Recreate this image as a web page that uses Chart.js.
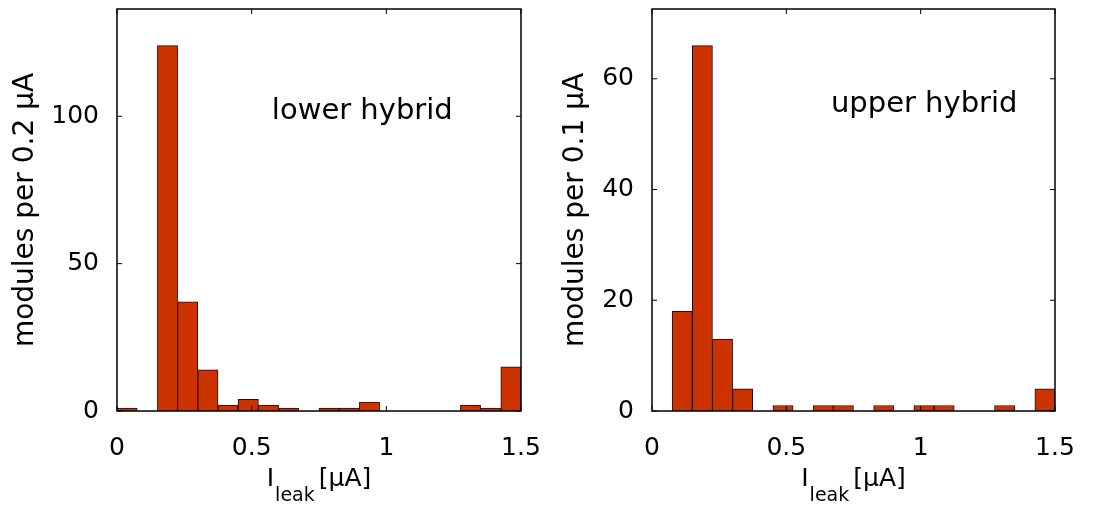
<!DOCTYPE html>
<html>
<head>
<meta charset="utf-8">
<script src="https://cdn.jsdelivr.net/npm/chart.js@4.4.1/dist/chart.umd.min.js"></script>
<style>
    html, body { margin: 0; padding: 0; background: #fff; }
    .panel { position: absolute; top: 0; height: 508px; }
    #leftPanel { left: 0; width: 546px; }
    #rightPanel { left: 546px; width: 547px; }
</style>
</head>
<body>
<div class="panel" id="leftPanel"><canvas id="leftChart"></canvas></div>
<div class="panel" id="rightPanel"><canvas id="rightChart"></canvas></div>
<script>
// ==================== DATOS ====================
const binCenters = [0.0375, 0.1125, 0.1875, 0.2625, 0.3375, 0.4125, 0.4875, 0.5625, 0.6375, 0.7125,
                    0.7875, 0.8625, 0.9375, 1.0125, 1.0875, 1.1625, 1.2375, 1.3125, 1.3875, 1.4625];
const lowerCounts = [1, 0, 124, 37, 14, 2, 4, 2, 1, 0, 1, 1, 3, 0, 0, 0, 0, 2, 1, 15];
const upperCounts = [0, 18, 66, 13, 4, 0, 1, 0, 1, 1, 0, 1, 0, 1, 1, 0, 0, 1, 0, 4];

const xTicks = [0, 0.5, 1, 1.5];
const xTickLabels = ['0', '0.5', '1', '1.5'];
const lowerYTicks = [0, 50, 100];
const upperYTicks = [0, 20, 40, 60];
const lowerYMax = 136.4;
const upperYMax = 72.6;

const FONT = '"DejaVu Sans", sans-serif';

// ==================== PLUGIN: caja, ticks hacia dentro, textos ====================
const frameInward = {
    id: 'frameInward',
    afterDatasetsDraw(chart, args, opts) {
        const { ctx, chartArea: a, scales: { x, y } } = chart;
        ctx.save();
        ctx.strokeStyle = '#000';
        ctx.lineWidth = 1.5;
        ctx.strokeRect(a.left, a.top, a.right - a.left, a.bottom - a.top);

        ctx.lineWidth = 1;
        ctx.beginPath();
        x.ticks.forEach((t) => {
            const px = x.getPixelForValue(t.value);
            ctx.moveTo(px, a.bottom); ctx.lineTo(px, a.bottom - 5);
            ctx.moveTo(px, a.top); ctx.lineTo(px, a.top + 5);
        });
        y.ticks.forEach((t) => {
            const py = y.getPixelForValue(t.value);
            ctx.moveTo(a.left, py); ctx.lineTo(a.left + 5, py);
            ctx.moveTo(a.right, py); ctx.lineTo(a.right - 5, py);
        });
        ctx.stroke();

        // etiqueta dentro del gráfico
        ctx.fillStyle = '#000';
        ctx.textBaseline = 'alphabetic';
        ctx.textAlign = 'left';
        ctx.font = '29px ' + FONT;
        ctx.fillText(opts.note, x.getPixelForValue(opts.noteX), y.getPixelForValue(opts.noteY));

        // título del eje x con subíndice
        const big = '25px ' + FONT;
        const small = '19px ' + FONT;
        ctx.font = big;
        const wI = ctx.measureText('I').width;
        const wUnit = ctx.measureText('[µA]').width;
        ctx.font = small;
        const wSub = ctx.measureText('leak').width;
        const gap = 4;
        const total = wI + 1 + wSub + gap + wUnit;
        let cx = (a.left + a.right) / 2 - total / 2;
        const base = a.bottom + 75;
        ctx.font = big;
        ctx.fillText('I', cx, base);
        cx += wI + 1;
        ctx.font = small;
        ctx.fillText('leak', cx, base + 15);
        cx += wSub + gap;
        ctx.font = big;
        ctx.fillText('[µA]', cx, base);
        ctx.restore();
    }
};

// ==================== CHART ====================
function makeHistogram(canvasId, counts, yTicks, yMax, yTitle, yWidth, yTitlePad, padRight, note, noteX, noteY) {
    const ctx = document.getElementById(canvasId).getContext('2d');
    return new Chart(ctx, {
        type: 'bar',
        data: {
            datasets: [{
                data: binCenters.map((c, i) => ({ x: c, y: counts[i] })),
                backgroundColor: '#cc3300',
                borderColor: '#2b0800',
                borderWidth: 1,
                barPercentage: 1,
                categoryPercentage: 1
            }]
        },
        plugins: [frameInward],
        options: {
            animation: false,
            responsive: true,
            maintainAspectRatio: false,
            layout: { padding: { left: 0, right: padRight, top: 9, bottom: 0 } },
            plugins: {
                legend: { display: false },
                tooltip: { enabled: false },
                frameInward: { note: note, noteX: noteX, noteY: noteY }
            },
            scales: {
                x: {
                    type: 'linear',
                    min: 0,
                    max: 1.5,
                    offset: false,
                    grid: { display: false, offset: false },
                    border: { display: false },
                    afterBuildTicks: (scale) => { scale.ticks = xTicks.map(v => ({ value: v })); },
                    afterFit: (scale) => {
                        scale.height = 97;
                        scale.paddingLeft = 0;
                        scale.paddingRight = 0;
                    },
                    ticks: {
                        maxRotation: 0,
                        autoSkip: false,
                        padding: 14,
                        color: '#000',
                        font: { family: FONT, size: 25 },
                        callback: (v) => xTickLabels[xTicks.indexOf(v)]
                    }
                },
                y: {
                    min: 0,
                    max: yMax,
                    grid: { display: false },
                    border: { display: false },
                    afterBuildTicks: (scale) => { scale.ticks = yTicks.map(v => ({ value: v })); },
                    afterFit: (scale) => {
                        scale.width = yWidth;
                        scale.paddingTop = 0;
                        scale.paddingBottom = 0;
                    },
                    title: {
                        display: true,
                        text: yTitle,
                        color: '#000',
                        font: { family: FONT, size: 28 },
                        padding: { top: yTitlePad, bottom: 0 }
                    },
                    ticks: {
                        padding: 10,
                        color: '#000',
                        font: { family: FONT, size: 25 },
                        callback: (v) => String(v)
                    }
                }
            }
        }
    });
}

const leftChart = makeHistogram('leftChart', lowerCounts, lowerYTicks, lowerYMax,
    'modules per 0.2 µA', 117, 9, 25, 'lower hybrid', 0.575, 99);
const rightChart = makeHistogram('rightChart', upperCounts, upperYTicks, upperYMax,
    'modules per 0.1 µA', 106, 13, 38, 'upper hybrid', 0.666, 54);
</script>
</body>
</html>
